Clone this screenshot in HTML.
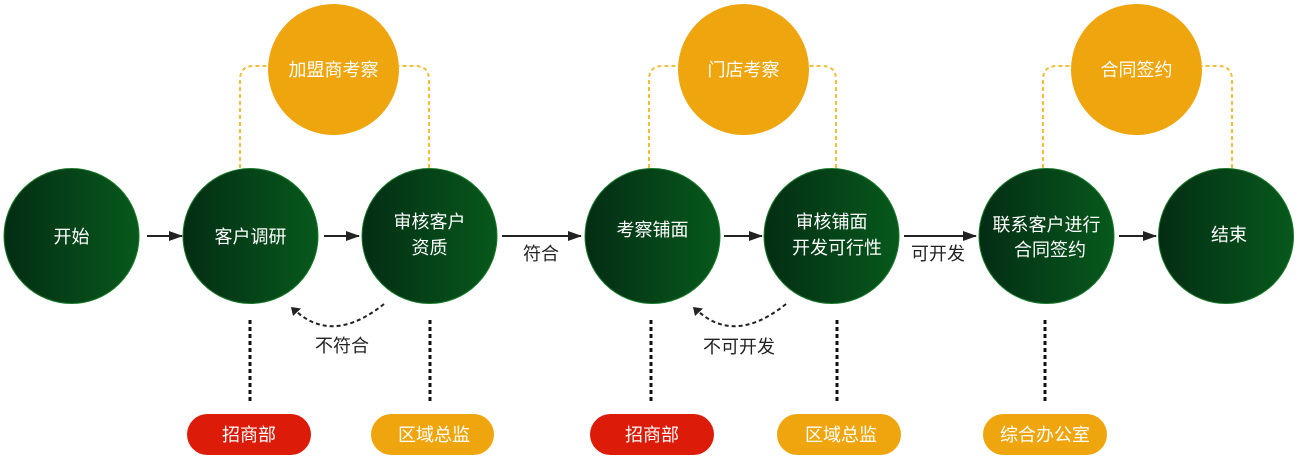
<!DOCTYPE html>
<html><head><meta charset="utf-8"><style>
html,body{margin:0;padding:0;background:#fff;}
svg{display:block;}
text{font-family:"Liberation Sans","Noto Sans CJK SC",sans-serif;font-size:18px;}
.w{fill:#fff;}
.k{fill:#222;}
</style></head><body>
<svg width="1300" height="461" viewBox="0 0 1300 461" xmlns="http://www.w3.org/2000/svg">
<defs>
<linearGradient id="g" x1="0" y1="0" x2="1" y2="0">
<stop offset="0" stop-color="#032d14"/>
<stop offset="1" stop-color="#07591c"/>
</linearGradient>
<marker id="ah" markerWidth="14" markerHeight="10" refX="13" refY="5" orient="auto" markerUnits="userSpaceOnUse">
<path d="M0,0 L14,5 L0,10 Z" fill="#222"/>
</marker>
</defs>

<!-- orange dashed connectors -->
<g fill="none" stroke="#f2bf3a" stroke-width="2" stroke-dasharray="4 3">
<path d="M240,168 V80 Q240,66 254,66 H268"/>
<path d="M429,168 V80 Q429,66 415,66 H399"/>
<path d="M649,168 V80 Q649,66 663,66 H678"/>
<path d="M836,168 V80 Q836,66 822,66 H809"/>
<path d="M1043,168 V80 Q1043,66 1057,66 H1071"/>
<path d="M1232,168 V80 Q1232,66 1218,66 H1202"/>
</g>

<!-- orange circles -->
<g fill="#eea50e">
<circle cx="333.5" cy="69.5" r="65.5"/>
<circle cx="743.5" cy="69.5" r="65.5"/>
<circle cx="1136.5" cy="69.5" r="65.5"/>
</g>
<text class="w" x="333.5" y="70" text-anchor="middle" dominant-baseline="central">加盟商考察</text>
<text class="w" x="743.5" y="70" text-anchor="middle" dominant-baseline="central">门店考察</text>
<text class="w" x="1136.5" y="70" text-anchor="middle" dominant-baseline="central">合同签约</text>

<!-- green circles -->
<g fill="url(#g)" stroke="#1a7a2c" stroke-width="1">
<circle cx="71.5" cy="236" r="67.5"/>
<circle cx="250.5" cy="236" r="67.5"/>
<circle cx="429.5" cy="236" r="67.5"/>
<circle cx="652.5" cy="236" r="67.5"/>
<circle cx="831.5" cy="236" r="67.5"/>
<circle cx="1046.5" cy="236" r="67.5"/>
<circle cx="1226" cy="236" r="67.5"/>
</g>
<text class="w" x="71.5" y="237" text-anchor="middle" dominant-baseline="central">开始</text>
<text class="w" x="250.5" y="237" text-anchor="middle" dominant-baseline="central">客户调研</text>
<text class="w" x="429.5" y="222" text-anchor="middle" dominant-baseline="central">审核客户</text>
<text class="w" x="429.5" y="248" text-anchor="middle" dominant-baseline="central">资质</text>
<text class="w" x="652.5" y="230" text-anchor="middle" dominant-baseline="central">考察铺面</text>
<text class="w" x="831.5" y="222" text-anchor="middle" dominant-baseline="central">审核铺面</text>
<text class="w" x="837" y="248" text-anchor="middle" dominant-baseline="central">开发可行性</text>
<text class="w" x="1046.5" y="225" text-anchor="middle" dominant-baseline="central">联系客户进行</text>
<text class="w" x="1050" y="250" text-anchor="middle" dominant-baseline="central">合同签约</text>
<text class="w" x="1229" y="235" text-anchor="middle" dominant-baseline="central">结束</text>

<!-- horizontal arrows -->
<g stroke="#222" stroke-width="2" fill="none" marker-end="url(#ah)">
<line x1="147" y1="236" x2="182" y2="236"/>
<line x1="324" y1="236" x2="359" y2="236"/>
<line x1="502" y1="236" x2="581" y2="236"/>
<line x1="724" y1="236" x2="762" y2="236"/>
<line x1="904" y1="236" x2="976" y2="236"/>
<line x1="1119" y1="236" x2="1156" y2="236"/>
</g>
<text class="k" x="541" y="254" text-anchor="middle" dominant-baseline="central">符合</text>
<text class="k" x="938" y="254" text-anchor="middle" dominant-baseline="central">可开发</text>

<!-- return dashed curves -->
<g fill="none" stroke="#222" stroke-width="2" stroke-dasharray="4 3">
<path d="M384,304 Q334,344 297,312"/>
<path d="M786,304 Q736,344 699,312"/>
</g>
<g fill="#222">
<polygon points="291,307 301,308.5 293,316"/>
<polygon points="693,307 703,308.5 695,316"/>
</g>
<text class="k" x="342" y="346" text-anchor="middle" dominant-baseline="central">不符合</text>
<text class="k" x="739" y="347" text-anchor="middle" dominant-baseline="central">不可开发</text>

<!-- vertical dotted lines -->
<g stroke="#111" stroke-width="3" stroke-dasharray="4 3">
<line x1="250" y1="320" x2="250" y2="404"/>
<line x1="430" y1="320" x2="430" y2="404"/>
<line x1="651" y1="320" x2="651" y2="404"/>
<line x1="837" y1="320" x2="837" y2="404"/>
<line x1="1045" y1="320" x2="1045" y2="404"/>
</g>

<!-- pills -->
<rect x="187" y="414" width="124" height="41" rx="20.5" fill="#dc1b08"/>
<rect x="371" y="414" width="123" height="41" rx="20.5" fill="#eea50e"/>
<rect x="590" y="414" width="124" height="41" rx="20.5" fill="#dc1b08"/>
<rect x="777" y="414" width="124" height="41" rx="20.5" fill="#eea50e"/>
<rect x="983" y="414" width="124" height="41" rx="20.5" fill="#eea50e"/>
<text class="w" x="249" y="435" text-anchor="middle" dominant-baseline="central">招商部</text>
<text class="w" x="434" y="435" text-anchor="middle" dominant-baseline="central">区域总监</text>
<text class="w" x="652" y="435" text-anchor="middle" dominant-baseline="central">招商部</text>
<text class="w" x="841" y="435" text-anchor="middle" dominant-baseline="central">区域总监</text>
<text class="w" x="1045" y="435" text-anchor="middle" dominant-baseline="central">综合办公室</text>
</svg>
</body></html>
